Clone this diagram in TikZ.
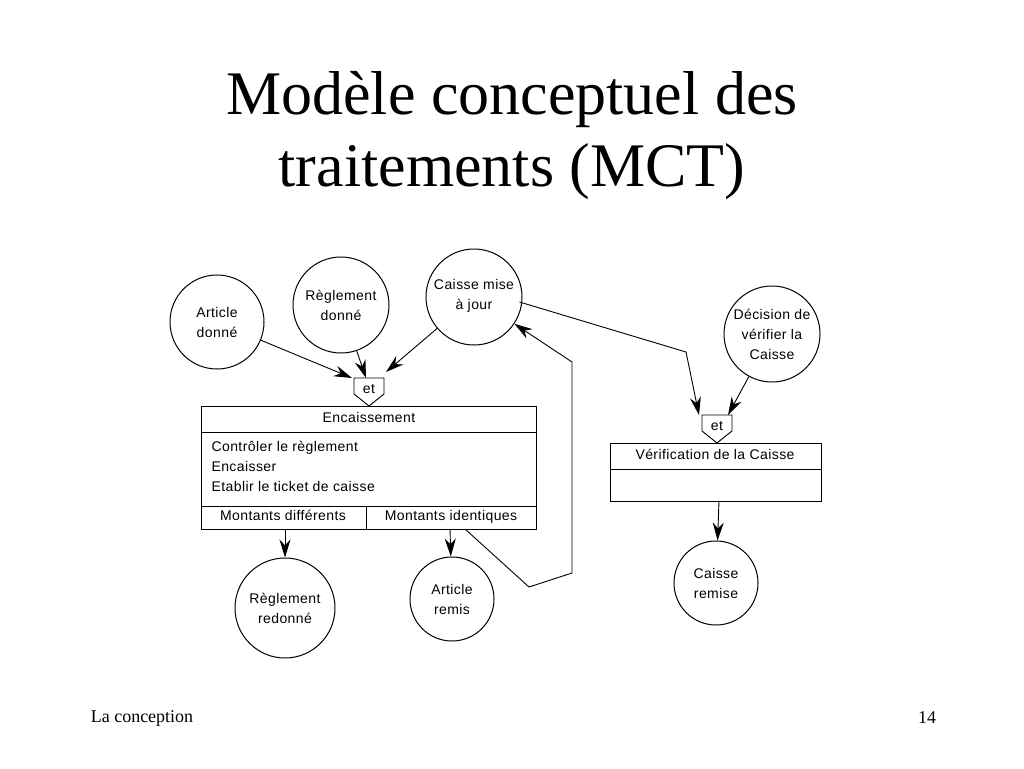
\documentclass[tikz,border=0pt]{standalone}
\usepackage{fontspec}
\setmainfont{Liberation Serif}
\newfontfamily\sfx{Liberation Sans}[LetterSpace=3]
\usetikzlibrary{arrows.meta}
\begin{document}
\begin{tikzpicture}[x=1pt,y=-1pt,
  ev/.style={circle,draw,line width=1pt,minimum size=#1,inner sep=0pt,align=center,font=\sfx\fontsize{14}{20}\selectfont},
  arr/.style={line width=0.9pt,-{Stealth[length=18pt,width=11pt]}},
  ln/.style={line width=0.9pt},
  lbl/.style={font=\sfx\fontsize{14}{20}\selectfont,text depth=3pt,text height=10pt}]
\useasboundingbox (0,0) rectangle (1024,768);
\node[font=\fontsize{62}{72}\selectfont,align=center] (title) at (512,136) {Modèle conceptuel des\\traitements (MCT)};
\node[ev=94pt] (ad) at (217,322) {Article\\donné};
\node[ev=96pt] (rd) at (341,305) {Règlement\\donné};
\node[ev=96pt,text depth=6pt] (cm) at (474,297) {Caisse mise\\à jour};
\node[ev=96pt] (dv) at (772,334) {Décision de\\vérifier la\\Caisse};
\node[ev=100pt] (rr) at (285,608) {Règlement\\redonné};
\node[ev=84pt] (ar) at (452,599) {Article\\remis};
\node[ev=84pt] (cr) at (716,583) {Caisse\\remise};
% et connectors
\draw[ln,fill=white] (354,378) -- (384,378) -- (384,394) -- (369,406) -- (354,394) -- cycle;
\node[lbl] (et1) at (369,390) {et};
\draw[ln,fill=white] (702,415) -- (732,415) -- (732,431) -- (717,443) -- (702,431) -- cycle;
\node[lbl] (et2) at (717,427) {et};
% Encaissement box
\draw[ln] (201,406) rectangle (536,529);
\draw[ln] (201,432) -- (536,432);
\draw[ln] (201,506) -- (536,506);
\draw[ln] (366,506) -- (366,529);
\node[lbl] (enc) at (369,419) {Encaissement};
\node[lbl,anchor=west,align=left,text height=,text depth=] (ops) at (208,466) {Contrôler le règlement\\Encaisser\\Etablir le ticket de caisse};
\node[lbl] (md) at (283,517) {Montants différents};
\node[lbl] (mi) at (451,517) {Montants identiques};
% Vérification box
\draw[ln] (610,443) rectangle (821,501);
\draw[ln] (610,469) -- (821,469);
\node[lbl] (ver) at (715,456) {Vérification de la Caisse};
\coordinate (vb) at (719,501);
% arrows
\draw[arr] (ad) -- (352,378);
\draw[arr] (rd) -- (366,378);
\draw[arr] (cm) -- (386,372);
\draw[arr] (cm.east) ++(-3,5) -- (686,352) -- (699,415);
\draw[arr] (dv) -- (728,415);
\draw[arr] (vb) -- (cr);
\draw[arr] (285,529) -- (rr);
\draw[arr] (450,529) -- (ar);
\draw[arr] (465,529) -- (529,587) -- (572,573) -- (572,362) -- (cm);
\node[font=\fontsize{18}{20}\selectfont] (f1) at (142,718) {La conception};
\node[font=\fontsize{18}{20}\selectfont] (f2) at (927,718) {14};
\end{tikzpicture}
\end{document}
